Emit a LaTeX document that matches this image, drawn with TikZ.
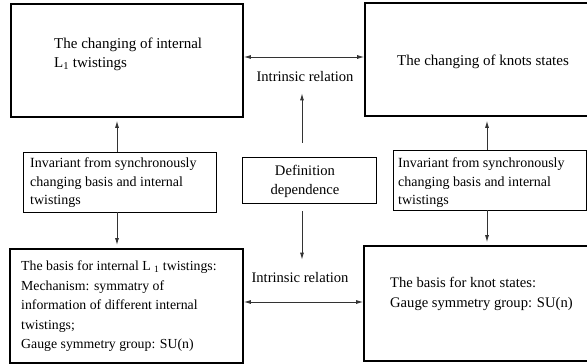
\documentclass[tikz,border=0pt]{standalone}
\usepackage{fontspec}
\setmainfont{Liberation Serif}
\usetikzlibrary{calc, arrows.meta, positioning}

\tikzset{
  bigbox/.style={draw, line width=1.6pt, minimum width=232pt, minimum height=113pt, inner sep=0pt},
  smallbox/.style={draw, line width=0.8pt, inner sep=0pt},
  txt/.style={inner sep=0pt, font=\fontsize{14.6}{19}\selectfont},
  link/.style={draw=black!80, line width=0.9pt, >={Latex[length=7pt,width=4pt]}}
}

\begin{document}
\begin{tikzpicture}[x=1pt, y=-1pt]
        \useasboundingbox (0,0) rectangle (587,364);
        \clip (0,0) rectangle (587,364);

        \node[bigbox] (chL) at (127,60.5) {};
        \node[bigbox, minimum width=235pt] (chK) at (482.5,59.5) {};
        \node[bigbox, minimum width=233pt, minimum height=114pt] (basL) at (126.5,305.8) {};
        \node[bigbox, minimum width=236pt, minimum height=115pt] (basK) at (482,303.5) {};
        \node[smallbox, minimum width=193pt, minimum height=60pt] (invL) at (119.5,182) {};
        \node[smallbox, minimum width=193pt, minimum height=60pt] (invK) at (489.5,180) {};
        \node[smallbox, minimum width=134pt, minimum height=46pt] (defdep) at (309,180) {};

        \node[txt, anchor=north west, align=left, font=\fontsize{15}{19}\selectfont] (chLtxt) at (54,38) {The changing of internal\\L\textsubscript{1} twistings};
        \node[txt, anchor=north west, font=\fontsize{15}{19}\selectfont] (chKtxt) at (397,55) {The changing of knots states};
        \node[txt, anchor=north west, align=left, font=\fontsize{14}{18.5}\selectfont] (invLtxt) at (30,157.6) {Invariant from synchronously\\changing basis and internal\\twistings};
        \node[txt, anchor=north west, align=left, font=\fontsize{14}{18.5}\selectfont] (invKtxt) at (398,157.6) {Invariant from synchronously\\changing basis and internal\\twistings};
        \node[txt, anchor=north, align=center] (defdeptxt) at (305,165.2) {Definition\\dependence};
        \node[txt, anchor=north west, align=left, font=\fontsize{13.8}{19.5}\selectfont] (basLtxt) at (21,260.6) {The basis for internal L \textsubscript{1} twistings:\\Mechanism: symmatry of\\information of different internal\\twistings;\\Gauge symmetry group: SU(n)};
        \node[txt, anchor=north west, align=left, font=\fontsize{14.6}{20}\selectfont] (basKtxt) at (390,277.2) {The basis for knot states:\\Gauge symmetry group: SU(n)};
        \node[txt, anchor=base] (irtop) at (305,81) {Intrinsic relation};
        \node[txt, anchor=base] (irbot) at (300,282) {Intrinsic relation};

        \draw[link,<->] ([yshift=3.5pt]chL.east) -- ([yshift=3.5pt]chL.east -| chK.west);
        \draw[link,<->] ([yshift=3.8pt]basL.east) -- ([yshift=3.8pt]basL.east -| basK.west);
        \draw[link,->, shorten <=14pt, shorten >=12pt] ([xshift=-7pt]defdep.north) -- ([xshift=-7pt]defdep.north |- irtop.south);
        \draw[link,->, shorten <=8pt, shorten >=12pt] ([xshift=-7pt]defdep.south) -- ([xshift=-7pt]defdep.south |- irbot.north);
        \draw[link,->, shorten >=3pt] ([xshift=-2.5pt]invL.north) -- ([xshift=-2.5pt]invL.north |- chL.south);
        \draw[link,->, shorten >=3pt] ([xshift=-2.5pt]invL.south) -- ([xshift=-2.5pt]invL.south |- basL.north);
        \draw[link,->, shorten >=4pt] ([xshift=-2.5pt]invK.north) -- ([xshift=-2.5pt]invK.north |- chK.south);
        \draw[link,->, shorten >=3pt] ([xshift=-2.5pt]invK.south) -- ([xshift=-2.5pt]invK.south |- basK.north);
\end{tikzpicture}
\end{document}
